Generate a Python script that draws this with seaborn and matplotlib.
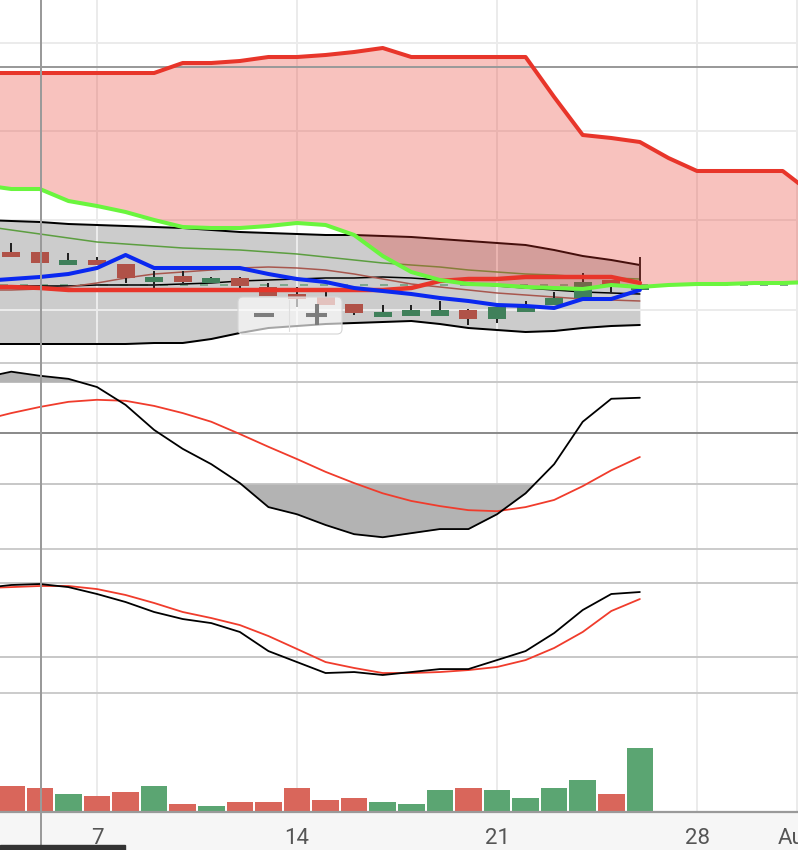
import matplotlib
matplotlib.use("Agg")
import matplotlib.pyplot as plt
from matplotlib.lines import Line2D
from matplotlib.patches import Rectangle, FancyBboxPatch
from matplotlib.transforms import IdentityTransform
import seaborn as sns

sns.set_style("white")
plt.rcParams['font.family'] = ['Roboto', 'DejaVu Sans']

# ---------------- data ----------------
days_main = list(range(3, 27))     # days with indicator values
days_cloud = list(range(3, 33))    # ichimoku cloud (shifted forward)
days_bar = list(range(4, 27))      # candles / volume

tick_days = [7, 14, 21, 28, 31.5]
tick_labels = ["7", "14", "21", "28", "Aug"]

senkou_b = [327, 327, 327, 327, 327, 327, 327, 337, 337, 339, 343, 343, 345, 348, 352,
            343, 343, 343, 343, 343, 303, 265, 262, 258, 242, 229, 229, 229, 229, 207]
senkou_a = [215, 211, 211, 199, 194, 188, 180, 173, 172, 172, 174, 177, 175, 165, 144,
            128, 120, 116, 115, 113, 112, 111, 115, 113, 115, 116, 116, 117, 117, 118]

bb_upper = [180, 179, 178, 176, 175, 174, 173, 172, 170, 168, 167, 166, 165, 165, 164,
            163, 161, 159, 157, 155, 150, 144, 140, 135]
bb_lower = [56, 56, 56, 56, 56, 56, 57, 57, 61, 67, 72, 74, 76, 77, 78,
            79, 76, 72, 70, 68, 69, 72, 74, 75]
bb_mid = [114, 114, 114, 114, 115, 115, 115, 116, 117, 119, 120, 121, 122, 122, 123,
          122, 120, 117, 114, 112, 110, 108, 107, 106]
ma_olive = [174, 170, 166, 162, 158, 156, 154, 152, 151, 150, 148, 146, 143, 140, 137,
            135, 133, 130, 128, 126, 125, 123, 122, 121]
ma_brown = [110, 110, 111, 113, 117, 122, 126, 128, 130, 132, 133, 132, 130, 126, 121,
            116, 113, 110, 107, 105, 103, 101, 100, 99]
tenkan = [119, 121, 123, 126, 132, 145, 132, 132, 132, 132, 126, 121, 118, 112, 109,
          106, 102, 99, 95, 94, 92, 101, 101, 110]
kijun = [113, 113, 112, 110, 110, 110, 110, 110, 110, 110, 110, 110, 110, 110, 110,
         112, 119, 121, 121, 123, 123, 123, 123, 117]

opens = [148, 148, 135, 140, 136, 118, 124, 117, 122, 113, 106, 103, 96, 83, 84,
         84, 90, 81, 88, 95, 102, 120, 110]
highs = [157, 148, 147, 143, 136, 129, 129, 123, 123, 117, 113, 110, 96, 95, 95,
         99, 91, 93, 99, 108, 127, 120, 143]
lows = [143, 137, 135, 135, 117, 112, 117, 117, 112, 104, 93, 95, 85, 83, 84,
        84, 75, 77, 88, 95, 102, 107, 110]
closes = [143, 137, 140, 135, 122, 123, 118, 122, 114, 104, 101, 95, 87, 88, 90,
          90, 81, 93, 93, 102, 118, 115, 113]
volume = [26, 24, 18, 16, 20, 26, 8, 6, 10, 10, 24, 12, 14, 10, 8,
          22, 24, 22, 14, 24, 32, 18, 64]

last_price = 115
marker_level = 333
price_grid = [90, 180, 269, 357]

cci = [108, 120, 112, 106, 90, 55, 6, -31, -61, -98, -145, -159, -180, -198, -204,
       -196, -188, -188, -159, -118, -61, 22, 67, 69]
cci_signal = [25, 39, 51, 61, 65, 63, 53, 39, 22, -2, -27, -51, -76, -98, -118,
              -133, -143, -151, -153, -145, -131, -104, -73, -47]

stoch_k = [76.2, 78.7, 79.5, 77.0, 71.4, 64.9, 56.8, 51.1, 47.8, 40.6, 25.1, 16.2, 7.3, 8.1,
           5.7, 8.1, 10.5, 10.5, 17.8, 25.1, 39.7, 58.4, 71.4, 73.0]
stoch_d = [76.2, 77.0, 77.9, 77.9, 75.4, 70.6, 64.1, 56.8, 51.9, 46.2, 37.3, 26.8, 16.2, 11.4,
           7.3, 7.3, 8.1, 9.7, 12.2, 17.8, 27.6, 40.6, 57.6, 67.3]

# ---------------- figure ----------------
W, H = 798, 850
fig = plt.figure(figsize=(W / 100, H / 100), dpi=100)
fig.patch.set_facecolor('white')


def rect(top, bottom):
    return [0, 1 - bottom / H, 1, (bottom - top) / H]


ax_p = fig.add_axes(rect(0, 363))
ax_c = fig.add_axes(rect(363, 549))
ax_s = fig.add_axes(rect(549, 693))
ax_v = fig.add_axes(rect(693, 812))

XMIN, XMAX = 3.605, 31.535
GRID = '#ebebeb'
RED = '#e8352a'

for ax in (ax_p, ax_c, ax_s, ax_v):
    ax.set_xlim(XMIN, XMAX)
    for s in ax.spines.values():
        s.set_visible(False)
    ax.set_yticks([])
    for t in tick_days:
        ax.axvline(t, color=GRID, lw=1.44, zorder=1)
    ax.set_facecolor('white')

for ax in (ax_p, ax_c, ax_s):
    ax.set_xticks([])

# ---- price panel ----
ax_p.fill_between(days_main, bb_lower, bb_upper, color='#cccccc', lw=0, zorder=0.5)
for g in price_grid:
    ax_p.axhline(g, color=GRID, lw=1.44, zorder=1)
ax_p.axhline(last_price, color='#7fa78d', lw=1.44, dashes=(4, 6), zorder=1.5)

kw = dict(ax=ax_p, estimator=None, sort=False)
sns.lineplot(x=days_main, y=bb_upper, color='black', linewidth=1.44, zorder=2, **kw)
sns.lineplot(x=days_main, y=bb_lower, color='black', linewidth=1.44, zorder=2, **kw)
sns.lineplot(x=days_main, y=bb_mid, color='black', linewidth=1.1, zorder=2, **kw)
sns.lineplot(x=days_main, y=ma_olive, color='#5c9e40', linewidth=1.1, zorder=2, **kw)
sns.lineplot(x=days_main, y=ma_brown, color='#a8574e', linewidth=1.1, zorder=2, **kw)

# candles
ax_p.vlines(days_bar, lows, highs, color='#222222', lw=1.44, zorder=2.4)
bottoms = [min(o, c) for o, c in zip(opens, closes)]
heights = [max(abs(o - c), 1.5) for o, c in zip(opens, closes)]
ccol = ['#40805a' if c > o else '#b05248' for o, c in zip(opens, closes)]
ax_p.bar(days_bar, heights, bottom=bottoms, width=0.63, color=ccol, lw=0, zorder=2.5)

# cloud
ax_p.fill_between(days_cloud, senkou_a, senkou_b, color=RED, alpha=0.3, lw=0, zorder=3)
ax_p.axhline(marker_level, color='#9a9a9a', lw=1.44, zorder=3.5)

sns.lineplot(x=days_main, y=kijun, color=RED, linewidth=3.2, zorder=4, **kw)
sns.lineplot(x=days_main, y=tenkan, color='#0a28f0', linewidth=2.9, zorder=4.2, **kw)
sns.lineplot(x=days_cloud, y=senkou_b, color=RED, linewidth=2.9, zorder=4.4, **kw)
sns.lineplot(x=days_cloud, y=senkou_a, color='#6af53e', linewidth=2.9, zorder=4.6, **kw)
ax_p.set_ylim(37, 400)

# ---- CCI panel ----
ax_c.axhline(100, color='#c8c8c8', lw=1.44, zorder=1)
ax_c.axhline(-100, color='#c8c8c8', lw=1.44, zorder=1)
ax_c.axhline(0, color='#8c8c8c', lw=1.44, zorder=1)
ax_c.fill_between(days_main, cci, 100, where=[v >= 100 for v in cci], interpolate=True,
                  color='#b3b3b3', lw=0, zorder=1.5)
ax_c.fill_between(days_main, cci, -100, where=[v <= -100 for v in cci], interpolate=True,
                  color='#b3b3b3', lw=0, zorder=1.5)
sns.lineplot(x=days_main, y=cci_signal, ax=ax_c, color='#f03c2c', linewidth=1.3,
             zorder=3, estimator=None, sort=False)
sns.lineplot(x=days_main, y=cci, ax=ax_c, color='black', linewidth=1.3,
             zorder=3, estimator=None, sort=False)
ax_c.set_ylim(-227, 137)

# ---- stochastic panel ----
ax_s.axhline(80, color='#c8c8c8', lw=1.44, zorder=1)
ax_s.axhline(20, color='#c8c8c8', lw=1.44, zorder=1)
sns.lineplot(x=days_main, y=stoch_d, ax=ax_s, color='#f03c2c', linewidth=1.3,
             zorder=3, estimator=None, sort=False)
sns.lineplot(x=days_main, y=stoch_k, ax=ax_s, color='black', linewidth=1.3,
             zorder=3, estimator=None, sort=False)
ax_s.set_ylim(-8.9, 107.9)

# ---- volume panel ----
vcol = ['#5ba572' if c > o else '#d9665b' for o, c in zip(opens, closes)]
ax_v.bar(days_bar, volume, width=0.93, color=vcol, lw=0, zorder=2)
ax_v.set_ylim(0, 119)
ax_v.spines['bottom'].set_visible(True)
ax_v.spines['bottom'].set_color('#9a9a9a')
ax_v.spines['bottom'].set_linewidth(1.6)
ax_v.set_xticks(tick_days)
ax_v.set_xticklabels(tick_labels)
ax_v.tick_params(axis='x', length=7, width=1.44, color='#9a9a9a', pad=4.5,
                 labelsize=16, labelcolor='#555555')
ax_v.set_xlabel('')
ax_v.set_ylabel('')
for ax in (ax_p, ax_c, ax_s):
    ax.set_xlabel('')
    ax.set_ylabel('')

# ---- chrome ----
ident = IdentityTransform()
fig.add_artist(Rectangle((0, 0), W, 38, transform=ident, color='#f6f6f6', zorder=-1))
for ypx in (363, 549, 693):
    fig.add_artist(Line2D([0, W], [H - ypx, H - ypx], transform=ident,
                          color='#cccccc', lw=1.44, zorder=8))
fig.add_artist(Line2D([40.5, 40.5], [0, H], transform=ident, color='#9a9a9a',
                      lw=1.44, zorder=9))
fig.add_artist(Rectangle((0, 0), 125, 5, transform=ident, color='#333333', zorder=10))

# zoom widget
fig.add_artist(FancyBboxPatch((238, H - 334), 104, 37,
                              boxstyle='round,pad=0,rounding_size=5', transform=ident,
                              fc=(1, 1, 1, 0.65), ec='#d5d5d5', lw=0.8, zorder=6))
fig.add_artist(Line2D([289, 289], [H - 331, H - 300], transform=ident,
                      color='#dedede', lw=0.8, zorder=7))
fig.add_artist(Line2D([254, 274], [H - 315, H - 315], transform=ident,
                      color='#7d7d7d', lw=2.9, solid_capstyle='butt', zorder=7))
fig.add_artist(Line2D([306, 327], [H - 315, H - 315], transform=ident,
                      color='#7d7d7d', lw=2.9, solid_capstyle='butt', zorder=7))
fig.add_artist(Line2D([316.5, 316.5], [H - 325, H - 304], transform=ident,
                      color='#7d7d7d', lw=2.9, solid_capstyle='butt', zorder=7))

fig.savefig('out.png', dpi=100)
